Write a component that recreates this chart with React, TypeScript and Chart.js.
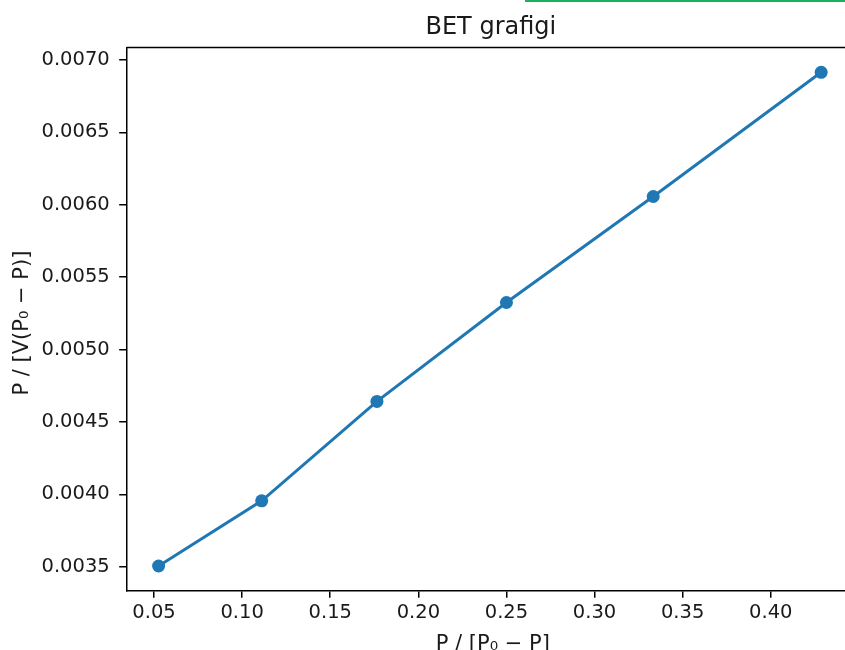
import React, { useEffect, useRef } from "react";
import { Chart, registerables } from "chart.js";

Chart.register(...registerables);

const TITLE = "BET grafigi";
const X_LABEL = "P / [P₀ − P]";
const Y_LABEL = "P / [V(P₀ − P)]";

// P/(P0-P) values
const X_VALUES = [0.0526, 0.1111, 0.1765, 0.25, 0.3333, 0.4286];
// P/[V(P0-P)] values
const Y_VALUES = [0.003505, 0.003955, 0.004642, 0.005325, 0.006057, 0.006915];

const X_TICKS = [0.05, 0.1, 0.15, 0.2, 0.25, 0.3, 0.35, 0.4];
const Y_TICKS = [0.0035, 0.004, 0.0045, 0.005, 0.0055, 0.006, 0.0065, 0.007];

const X_MIN = 0.0345;
const X_MAX = 0.4478;
const Y_MIN = 0.0033343;
const Y_MAX = 0.0070863;

const FONT = "'DejaVu Sans', sans-serif";
const LINE_COLOR = "#1f77b4";
const TEXT_COLOR = "#1a1a1a";

export default function App() {
  const ref = useRef<HTMLCanvasElement>(null);

  useEffect(() => {
    if (!ref.current) return;
    Chart.defaults.font.family = FONT;

    const textPlugin = {
      id: "mplText",
      afterDraw(chart: any) {
        const { ctx, chartArea: a } = chart;
        ctx.save();
        // top & right spines
        ctx.strokeStyle = "#000";
        ctx.lineWidth = 1.5;
        ctx.beginPath();
        ctx.moveTo(a.left, a.top);
        ctx.lineTo(a.right, a.top);
        ctx.lineTo(a.right, a.bottom);
        ctx.stroke();

        ctx.fillStyle = TEXT_COLOR;
        ctx.textAlign = "center";
        ctx.textBaseline = "alphabetic";
        const cx = (a.left + a.right) / 2;
        ctx.font = `24px ${FONT}`;
        ctx.fillText(TITLE, cx, 34.3);
        ctx.font = `21px ${FONT}`;
        ctx.fillText(X_LABEL, cx + 2, 650);
        ctx.translate(28, (a.top + a.bottom) / 2 + 4);
        ctx.rotate(-Math.PI / 2);
        ctx.fillText(Y_LABEL, 0, 0);
        ctx.restore();
      },
    };

    const chart = new Chart(ref.current, {
      type: "scatter",
      data: {
        datasets: [
          {
            data: X_VALUES.map((x, i) => ({ x, y: Y_VALUES[i] })),
            showLine: true,
            borderColor: LINE_COLOR,
            backgroundColor: LINE_COLOR,
            borderWidth: 3,
            pointRadius: 6.5,
            pointBorderWidth: 0,
            pointBackgroundColor: LINE_COLOR,
          },
        ],
      },
      options: {
        responsive: false,
        animation: false,
        layout: { padding: { top: 47.5, right: 15, bottom: 0, left: 0 } },
        plugins: {
          legend: { display: false },
          tooltip: { enabled: false },
          title: { display: false },
        },
        scales: {
          x: {
            type: "linear",
            min: X_MIN,
            max: X_MAX,
            afterBuildTicks: (s: any) => {
              s.ticks = X_TICKS.map((value) => ({ value }));
            },
            afterFit: (s: any) => {
              s.height = 59.3;
            },
            ticks: {
              callback: (v: any) => Number(v).toFixed(2),
              font: { size: 19.5, family: FONT },
              color: TEXT_COLOR,
              padding: 4,
              maxRotation: 0,
              autoSkip: false,
            },
            grid: {
              drawOnChartArea: false,
              drawTicks: true,
              tickLength: 7,
              color: "#000",
              lineWidth: 1.5,
            },
            border: { display: true, color: "#000", width: 1.5 },
          },
          y: {
            type: "linear",
            min: Y_MIN,
            max: Y_MAX,
            afterBuildTicks: (s: any) => {
              s.ticks = Y_TICKS.map((value) => ({ value }));
            },
            afterFit: (s: any) => {
              s.width = 126.7;
            },
            ticks: {
              callback: (v: any) => Number(v).toFixed(4),
              font: { size: 19.5, family: FONT },
              color: TEXT_COLOR,
              padding: 9.5,
              autoSkip: false,
            },
            grid: {
              drawOnChartArea: false,
              drawTicks: true,
              tickLength: 7.5,
              color: "#000",
              lineWidth: 1.5,
            },
            border: { display: true, color: "#000", width: 1.5 },
          },
        },
      },
      plugins: [textPlugin],
    });

    return () => chart.destroy();
  }, []);

  return (
    <div
      style={{
        position: "absolute",
        left: 0,
        top: 0,
        width: 845,
        height: 650,
        overflow: "hidden",
        background: "#fff",
      }}
    >
      <canvas ref={ref} width={870} height={650} style={{ display: "block" }} />
      <div
        style={{
          position: "absolute",
          left: 525,
          top: 0,
          width: 320,
          height: 2,
          background: "#1db15a",
        }}
      />
    </div>
  );
}
